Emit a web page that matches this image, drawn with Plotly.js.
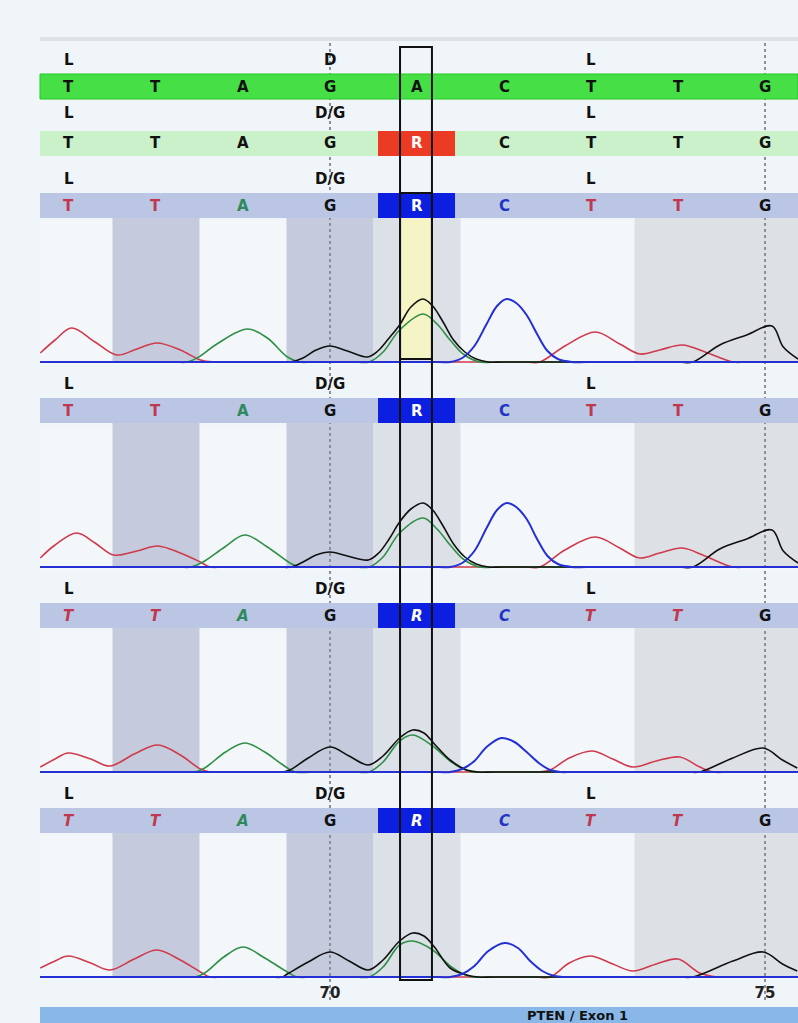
<!DOCTYPE html>
<html><head><meta charset="utf-8">
<script src="https://cdn.plot.ly/plotly-3.0.1.min.js"></script>
<style>html,body{margin:0;padding:0;background:#eff5f9;}#chart{width:798px;height:1023px;}</style>
</head><body><div id="chart"></div>
<script>
// ---------- data ----------
const basePos   = [67, 68, 69, 70, 71, 72, 73, 74, 75];
const refSeq    = ['T','T','A','G','A','C','T','T','G'];
const sampleSeq = ['T','T','A','G','R','C','T','T','G'];
const aaPos     = [67, 70, 73];
const aaRef     = ['L','D','L'];
const aaSample  = ['L','D/G','L'];
const tickVals  = [70, 75];
const tickText  = ['70', '75'];
const regionLabel = 'PTEN / Exon 1';

// chromatogram traces: [position, intensity]
const p1_T = [[66.67,9],[66.84,22],[67.03,34],[67.30,20],[67.55,7],[67.78,13],[68.01,19],[68.28,12],[68.51,2],[68.68,0],[68.9,0],[72.25,0],[72.41,0],[72.70,16],[73.05,30],[73.33,18],[73.56,8],[73.79,12],[74.05,17],[74.31,10],[74.63,0],[74.8,0],[75.38,0]];
const p1_A = [[66.67,0],[68.2,0],[68.36,0],[68.51,6],[68.70,18],[69.05,33],[69.28,24],[69.51,5],[69.65,0],[69.8,0],[70.3,0],[70.45,0],[70.61,10],[70.80,32],[71.07,48],[71.23,38],[71.38,22],[71.53,8],[71.72,0],[71.9,0],[75.38,0]];
const p1_G = [[66.67,0],[69.4,0],[69.55,0],[69.69,4],[69.84,12],[70.00,16],[70.20,11],[70.43,5],[70.55,11],[70.68,24],[70.80,37],[70.93,55],[71.07,63],[71.18,56],[71.30,40],[71.42,22],[71.55,10],[71.68,3],[71.82,0],[72.0,0],[74.0,0],[74.17,0],[74.48,17],[74.79,27],[75.08,36],[75.21,15],[75.38,3]];
const p1_C = [[66.67,0],[71.25,0],[71.38,0],[71.52,4],[71.66,16],[71.80,38],[71.92,56],[72.03,63],[72.14,59],[72.26,47],[72.38,28],[72.50,11],[72.62,3],[72.78,0],[72.95,0],[75.38,0]];

const p2_T = [[66.67,9],[66.84,22],[67.09,34],[67.30,24],[67.51,12],[67.78,16],[68.02,21],[68.28,14],[68.51,5],[68.62,0],[68.8,0],[72.25,0],[72.41,0],[72.70,17],[73.05,30],[73.33,19],[73.56,9],[73.79,14],[74.05,19],[74.31,11],[74.63,0],[74.8,0],[75.38,0]];
const p2_A = [[66.67,0],[68.25,0],[68.40,0],[68.54,5],[68.79,20],[69.02,32],[69.28,20],[69.54,4],[69.65,0],[69.8,0],[70.3,0],[70.45,0],[70.61,10],[70.80,34],[71.07,49],[71.23,38],[71.38,22],[71.53,8],[71.72,0],[71.9,0],[75.38,0]];
const p2_G = [[66.67,0],[69.4,0],[69.55,0],[69.69,5],[69.84,12],[70.00,15],[70.20,11],[70.44,7],[70.56,14],[70.68,28],[70.80,45],[70.93,58],[71.07,64],[71.18,57],[71.30,41],[71.42,23],[71.55,10],[71.68,3],[71.82,0],[72.0,0],[74.0,0],[74.17,0],[74.48,18],[74.79,28],[75.08,37],[75.21,16],[75.38,4]];
const p2_C = [[66.67,0],[71.25,0],[71.38,0],[71.52,4],[71.66,16],[71.80,39],[71.92,57],[72.03,64],[72.14,60],[72.26,48],[72.38,28],[72.50,11],[72.62,3],[72.78,0],[72.95,0],[75.38,0]];

const p3_T = [[66.67,5],[66.84,13],[66.99,19],[67.25,13],[67.47,6],[67.75,18],[68.02,27],[68.28,17],[68.51,3],[68.62,0],[68.8,0],[72.25,0],[72.41,0],[72.53,2],[72.75,14],[73.01,21],[73.25,13],[73.48,5],[73.75,11],[74.02,15],[74.25,5],[74.40,0],[74.6,0],[75.38,0]];
const p3_A = [[66.67,0],[68.3,0],[68.45,0],[68.56,4],[68.80,20],[69.02,29],[69.25,20],[69.46,7],[69.60,0],[69.8,0],[70.3,0],[70.45,0],[70.61,10],[70.80,31],[70.95,37],[71.18,26],[71.38,11],[71.53,3],[71.65,0],[71.8,0],[75.38,0]];
const p3_G = [[66.67,0],[69.3,0],[69.45,0],[69.54,2],[69.75,14],[70.00,25],[70.22,16],[70.44,7],[70.61,16],[70.80,34],[70.95,42],[71.08,39],[71.20,28],[71.38,12],[71.57,2],[71.7,0],[71.9,0],[74.1,0],[74.25,0],[74.63,14],[74.98,24],[75.20,12],[75.37,4]];
const p3_C = [[66.67,0],[71.25,0],[71.38,0],[71.52,3],[71.66,11],[71.80,25],[71.97,34],[72.12,30],[72.26,20],[72.40,9],[72.53,2],[72.65,0],[72.8,0],[75.38,0]];

const p4_T = [[66.67,9],[66.84,16],[66.99,21],[67.25,14],[67.47,7],[67.75,18],[68.01,27],[68.28,17],[68.51,5],[68.62,0],[68.8,0],[72.35,0],[72.53,0],[72.75,14],[72.99,21],[73.25,13],[73.48,6],[73.75,13],[74.00,18],[74.25,4],[74.45,0],[74.6,0],[75.38,0]];
const p4_A = [[66.67,0],[68.3,0],[68.45,0],[68.56,4],[68.78,20],[69.00,30],[69.25,19],[69.51,5],[69.62,0],[69.8,0],[70.3,0],[70.45,0],[70.61,10],[70.80,32],[70.95,36],[71.18,27],[71.38,11],[71.53,3],[71.65,0],[71.8,0],[75.38,0]];
const p4_G = [[66.67,0],[69.3,0],[69.45,0],[69.51,3],[69.75,15],[70.00,25],[70.22,16],[70.44,7],[70.61,17],[70.80,36],[70.95,44],[71.08,41],[71.20,30],[71.38,9],[71.57,2],[71.7,0],[71.9,0],[74.0,0],[74.17,0],[74.63,16],[74.98,25],[75.20,13],[75.37,6]];
const p4_C = [[66.67,0],[71.25,0],[71.38,0],[71.52,3],[71.66,11],[71.82,26],[72.01,34],[72.16,29],[72.30,16],[72.44,6],[72.58,1],[72.7,0],[72.85,0],[75.38,0]];

// ---------- layout helpers ----------
const W = 798, H = 1023;
const X0 = 66.667, X1 = 75.379;
const py = p => 1 - p / H;
const FONT = 'DejaVu Sans, Arial, sans-serif';
const baselines = [362, 567, 772, 977];
const panels = [
  [p1_T, p1_A, p1_G, p1_C],
  [p2_T, p2_A, p2_G, p2_C],
  [p3_T, p3_A, p3_G, p3_C],
  [p4_T, p4_A, p4_G, p4_C]
];
const chanColor = ['#cf3a4c', '#2f8f46', '#111111', '#2430d4'];
const letterColor = {T:'#c0384f', A:'#2e8a5c', G:'#111111', C:'#2233c4', R:'#ffffff'};

const traces = [];
panels.forEach((pan, k) => {
  const yax = k === 0 ? 'y' : 'y' + (k + 1);
  pan.forEach((tr, c) => {
    traces.push({
      type: 'scatter', mode: 'lines',
      x: tr.map(d => d[0]), y: tr.map(d => d[1]),
      xaxis: 'x', yaxis: yax,
      line: {color: chanColor[c], width: c === 3 ? 2 : 1.6, shape: 'spline', smoothing: 1},
      hoverinfo: 'skip', showlegend: false
    });
  });
});

const shapes = [];
const rect = (x0, x1, y0, y1, fill, xref, extra) => Object.assign({
  type: 'rect', xref: xref || 'x', yref: 'paper', x0, x1, y0: py(y1), y1: py(y0),
  fillcolor: fill, line: {width: 0}, layer: 'below'
}, extra || {});

shapes.push(rect(0, 1, 37, 41, '#dde2e7', 'paper'));
baselines.forEach(b => {
  const top = b - 144;
  shapes.push(rect(67.5, 68.5, top, b, '#c5cbdd'));
  shapes.push(rect(69.5, 70.5, top, b, '#c5cbdd'));
  shapes.push(rect(70.5, 71.5, top, b, '#dce0e7'));
  shapes.push(rect(73.5, X1, top, b, '#dde1e6'));
});
shapes.push(rect(70.82, 71.16, 218, 359, '#f4f4c4'));
tickVals.forEach(v => shapes.push({type:'line', xref:'x', yref:'paper', x0:v, x1:v, y0:py(1000), y1:py(42),
  line:{color:'#8a9098', width:2, dash:'dot'}, layer:'below'}));
shapes.push(rect(0, 1, 74, 99, '#46e046', 'paper', {line:{color:'#22c822', width:1}}));
shapes.push(rect(0, 1, 131, 156, '#cbf1cb', 'paper'));
shapes.push(rect(70.552, 71.437, 131, 156, '#ec3b24'));
baselines.forEach(b => {
  shapes.push(rect(0, 1, b - 169, b - 144, '#bac6e4', 'paper'));
  shapes.push(rect(70.552, 71.437, b - 169, b - 144, '#0c1fe0'));
});
shapes.push(rect(0, 1, 1007, 1023, '#88b7e8', 'paper'));
shapes.push({type:'rect', xref:'x', yref:'paper', x0:70.805, x1:71.172, y0:py(980), y1:py(47),
  line:{color:'#111', width:2}, fillcolor:'rgba(0,0,0,0)', layer:'above'});
shapes.push({type:'rect', xref:'x', yref:'paper', x0:70.805, x1:71.172, y0:py(359), y1:py(193),
  line:{color:'#111', width:2}, fillcolor:'rgba(0,0,0,0)', layer:'above'});

const annotations = [];
const txt = (x, yp, text, color, italic, size) => annotations.push({
  x, y: py(yp), xref:'x', yref:'paper', text, showarrow:false, xanchor:'center', yanchor:'middle',
  font:{family:FONT, size:size || 15, color, weight:700, style: italic ? 'italic' : 'normal'}
});
aaPos.forEach((p, i) => txt(p, 60, aaRef[i], '#111'));
basePos.forEach((p, i) => txt(p, 87, refSeq[i], '#111'));
aaPos.forEach((p, i) => txt(p, 113, aaSample[i], '#111'));
basePos.forEach((p, i) => txt(p, 143, sampleSeq[i], sampleSeq[i] === 'R' ? '#fff' : '#111'));
baselines.forEach((b, k) => {
  aaPos.forEach((p, i) => txt(p, b - 183, aaSample[i], '#111'));
  basePos.forEach((p, i) => {
    const ch = sampleSeq[i];
    txt(p, b - 156, ch, letterColor[ch], k >= 2 && ch !== 'G');
  });
});
annotations.push({x: 72.85, y: py(1015.5), xref:'x', yref:'paper', text: regionLabel, showarrow:false,
  xanchor:'center', yanchor:'middle', font:{family:FONT, size:13, color:'#111', weight:700}});

const layout = {
  width: W, height: H,
  margin: {l: 40, r: 0, t: 0, b: 0},
  paper_bgcolor: '#eff5f9', plot_bgcolor: '#f3f7fa',
  showlegend: false, hovermode: false,
  xaxis: {range: [X0, X1], domain: [0, 1], anchor: 'y4', showgrid: false, zeroline: false, showline: false,
    ticks: '', tickvals: tickVals, ticktext: tickText, ticklabelstandoff: 2,
    tickfont: {family: FONT, size: 15, color: '#222', weight: 700}, fixedrange: true},
  shapes, annotations
};
baselines.forEach((b, k) => {
  const name = k === 0 ? 'yaxis' : 'yaxis' + (k + 1);
  layout[name] = {domain: [py(b + 3), py(b - 141)], range: [-3, 141], anchor: 'x',
    visible: false, showgrid: false, zeroline: false, fixedrange: true};
});

Plotly.newPlot('chart', traces, layout, {displayModeBar: false, staticPlot: true});
</script></body></html>
